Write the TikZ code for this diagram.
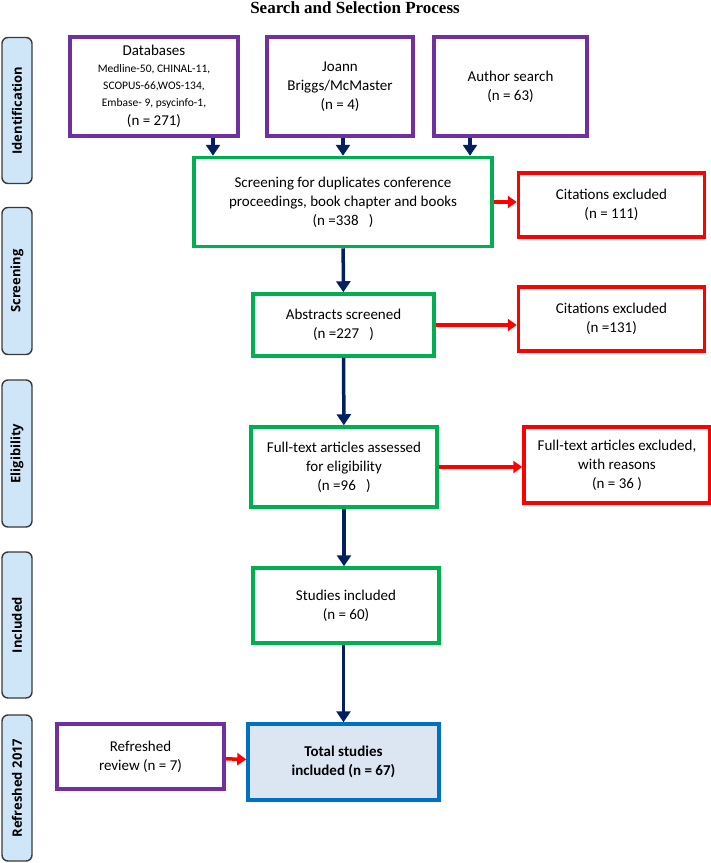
\documentclass[tikz,border=0pt]{standalone}
\usepackage{fontspec}
\setmainfont{Carlito}
\newfontfamily\phasefont{Open Sans}
\newfontfamily\titlefont{Liberation Serif}
\usetikzlibrary{shapes.geometric, arrows.meta, positioning}
\definecolor{srcpurple}{HTML}{7030A0}
\definecolor{procgreen}{HTML}{00B050}
\definecolor{exclred}{HTML}{FF0000}
\definecolor{flownavy}{HTML}{002060}
\definecolor{finalblue}{HTML}{0070C0}
\definecolor{finalfill}{HTML}{DCE6F2}
\definecolor{phasefill}{HTML}{CFE6F8}
\definecolor{phaseline}{HTML}{3A3A3A}
\tikzstyle{source} = [rectangle, draw=srcpurple, line width=3.5pt, fill=white, align=center, inner sep=2pt, font=\fontsize{15}{19}\selectfont]
\tikzstyle{process} = [rectangle, draw=procgreen, line width=3.5pt, fill=white, align=center, inner sep=2pt, font=\fontsize{15}{19}\selectfont]
\tikzstyle{excluded} = [rectangle, draw=exclred, line width=3.5pt, fill=white, align=center, inner sep=2pt, font=\fontsize{15}{19}\selectfont]
\tikzstyle{final} = [rectangle, draw=finalblue, line width=3.5pt, fill=finalfill, align=center, inner sep=2pt, font=\bfseries\fontsize{15}{19}\selectfont]
\tikzstyle{phase} = [rectangle, rounded corners=6pt, draw=phaseline, line width=1.4pt, fill=phasefill, rotate=90, minimum height=30pt, inner sep=0pt, font=\phasefont\bfseries\fontsize{13}{15}\selectfont]
\tikzstyle{arrow} = [draw=flownavy, line width=3.5pt, -{Triangle[length=11pt,width=14pt]}]
\tikzstyle{redarrow} = [draw=exclred, line width=3.5pt, -{Triangle[length=9pt,width=12pt]}]

\begin{document}
\begin{tikzpicture}[x=1pt, y=-1pt]
\useasboundingbox (0,0) rectangle (711,863);
\fill [white] (0,0) rectangle (711,863);

\node (title) at (355,8) {\titlefont\bfseries\fontsize{17}{19}\selectfont Search and Selection Process};

% phases
\node (ident) [phase, minimum width=146pt] at (17,110.5) {Identification};
\node (scr) [phase, minimum width=147pt] at (17,281) {Screening};
\node (elig) [phase, minimum width=147pt] at (17,453.5) {Eligibility};
\node (incl) [phase, minimum width=146pt] at (17,625) {Included};
\node (refr17) [phase, minimum width=146pt] at (17,788) {Refreshed 2017};

% sources
\node (db) [source, minimum width=168pt, minimum height=99pt] at (154,86.5) {Databases\\[-2pt]{\fontsize{11.5}{13}\selectfont Medline-50, CHINAL-11,}\\[-2pt]{\fontsize{11.5}{13}\selectfont SCOPUS-66,WOS-134,}\\[-2pt]{\fontsize{11.5}{13}\selectfont Embase- 9, psycinfo-1,}\\(n = 271)};
\node (joann) [source, minimum width=146pt, minimum height=99pt] at (340,86.5) {Joann\\Briggs/McMaster\\(n = 4)};
\node (author) [source, minimum width=153pt, minimum height=99pt] at (510.5,86.5) {Author search\\(n = 63)};

% main flow
\node (screen) [process, minimum width=298pt, minimum height=89pt] at (343,202) {Screening for duplicates conference\\proceedings, book chapter and books\\(n =338\ \ \ )};
\node (excl1) [excluded, minimum width=186pt, minimum height=64pt] at (611.5,205) {Citations excluded\\(n = 111)};
\node (abstr) [process, minimum width=181pt, minimum height=62pt] at (343.5,325) {Abstracts screened\\(n =227\ \ \ )};
\node (excl2) [excluded, minimum width=186pt, minimum height=64pt] at (611.5,319) {Citations excluded\\(n =131)};
\node (full) [process, minimum width=186pt, minimum height=80pt] at (344,467) {Full-text articles assessed\\for eligibility\\(n =96\ \ \ )};
\node (excl3) [excluded, minimum width=186pt, minimum height=76pt] at (617,465) {Full-text articles excluded,\\with reasons\\(n = 36 )};
\node (studies) [process, minimum width=186pt, minimum height=75pt] at (346,605.5) {Studies included\\(n = 60)};
\node (total) [final, minimum width=191pt, minimum height=76pt] at (343.5,762) {Total studies\\included (n = 67)};
\node (refresh) [source, minimum width=167pt, minimum height=65pt] at (140.5,756.5) {Refreshed\\review (n = 7)};

\draw [arrow] ([xshift=59pt]db.south) -- ([xshift=59pt]db.south |- screen.north);
\draw [arrow] (joann.south -| screen.north) -- (screen.north);
\draw [arrow] ([xshift=-40.5pt]author.south) -- ([xshift=-40.5pt]author.south |- screen.north);
\draw [arrow] (screen) -- (abstr);
\draw [arrow] (abstr) -- (full);
\draw [arrow] (full) -- (studies.north -| full.south);
\draw [arrow] (studies.south -| total.north) -- (total);

\draw [redarrow] (screen.east) -- (screen.east -| excl1.west);
\draw [redarrow] (abstr.east) -- (abstr.east -| excl2.west);
\draw [redarrow] (full.east) -- (full.east -| excl3.west);
\draw [redarrow] (refresh) -- (total);

\end{tikzpicture}
\end{document}
